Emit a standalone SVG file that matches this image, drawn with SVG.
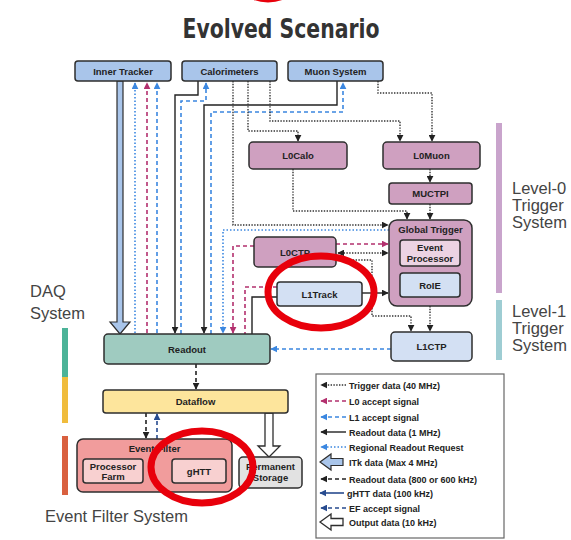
<svg xmlns="http://www.w3.org/2000/svg" width="571" height="540" viewBox="0 0 571 540">
  <style>
    .box { stroke: #2e2e2e; stroke-width: 1.5; }
    .det { fill: #a9c5ea; }
    .l0 { fill: #cfa0c0; }
    .lt { fill: #d3e0f3; }
    .lbl { font-family: "Liberation Sans", Arial, sans-serif; font-weight: bold; font-size: 9.5px; fill: #222; text-anchor: middle; }
    .side { font-family: "Liberation Sans", Arial, sans-serif; font-size: 16.5px; fill: #444; }
    .leg { font-family: "Liberation Sans", Arial, sans-serif; font-weight: bold; font-size: 9px; fill: #222; }
    .c { fill: none; stroke-width: 1.4; }
    .trig { stroke: #333; stroke-dasharray: 1.4 1.4; }
    .rrr { stroke: #3b87e0; stroke-dasharray: 1.5 2; stroke-width: 1.6; }
    .l0a { stroke: #b3306e; stroke-dasharray: 4 3; stroke-width: 1.6; }
    .l1a { stroke: #3b87e0; stroke-dasharray: 4 3; stroke-width: 1.6; }
    .ro { stroke: #222; }
    .ro2 { stroke: #222; stroke-dasharray: 4 3; stroke-width: 1.6; }
    .ght { stroke: #274b8f; stroke-width: 1.6; }
    .efa { stroke: #274b8f; stroke-dasharray: 4 3; stroke-width: 1.6; }
    .ring { fill: none; stroke: #e8000b; stroke-width: 7; }
  </style>
  <defs>
    <marker id="ak" viewBox="0 0 10 10" refX="9" refY="5" markerWidth="7" markerHeight="7" markerUnits="userSpaceOnUse" orient="auto-start-reverse">
      <path d="M0,0 L10,5 L0,10 z" fill="#222"/>
    </marker>
    <marker id="am" viewBox="0 0 10 10" refX="9" refY="5" markerWidth="7" markerHeight="7" markerUnits="userSpaceOnUse" orient="auto-start-reverse">
      <path d="M0,0 L10,5 L0,10 z" fill="#b3306e"/>
    </marker>
    <marker id="ab" viewBox="0 0 10 10" refX="9" refY="5" markerWidth="7" markerHeight="7" markerUnits="userSpaceOnUse" orient="auto-start-reverse">
      <path d="M0,0 L10,5 L0,10 z" fill="#3b87e0"/>
    </marker>
    <marker id="ad" viewBox="0 0 10 10" refX="9" refY="5" markerWidth="7" markerHeight="7" markerUnits="userSpaceOnUse" orient="auto-start-reverse">
      <path d="M0,0 L10,5 L0,10 z" fill="#274b8f"/>
    </marker>
  </defs>

  <rect width="571" height="540" fill="#ffffff"/>

  <!-- title -->
  <text x="281" y="38" font-family="'DejaVu Sans Condensed', 'Liberation Sans Narrow', sans-serif" font-weight="bold" font-size="27" fill="#333" text-anchor="middle" textLength="197" lengthAdjust="spacingAndGlyphs">Evolved Scenario</text>

  <!-- side bars and system labels -->
  <g id="side-labels">
    <rect x="496" y="123" width="6" height="170" fill="#c9a4cc"/>
    <rect x="496" y="300" width="6" height="60" fill="#9ecdd3"/>
    <text class="side" x="512" y="194">Level-0</text>
    <text class="side" x="512" y="211">Trigger</text>
    <text class="side" x="512" y="228">System</text>
    <text class="side" x="512" y="317">Level-1</text>
    <text class="side" x="512" y="334">Trigger</text>
    <text class="side" x="512" y="351">System</text>
    <text class="side" x="30" y="297">DAQ</text>
    <text class="side" x="30" y="319">System</text>
    <rect x="62" y="328" width="6" height="49" fill="#4cb398"/>
    <rect x="62" y="377" width="6" height="46" fill="#f0bc3c"/>
    <rect x="62" y="436" width="6" height="59" fill="#d9603f"/>
    <text class="side" x="45" y="522">Event Filter System</text>
  </g>

  <!-- connectors -->
  <g id="connectors">
    <!-- ITk data -->
    <polygon points="117,81 123,81 123,322 130,322 120,334 110,322 117,322" fill="#a9c5ea" stroke="#2e2e2e" stroke-width="1.2"/>
    <path class="c rrr" d="M135,333 V83" marker-end="url(#ab)"/>
    <path class="c l0a" d="M147,333 V83" marker-end="url(#am)"/>
    <path class="c l1a" d="M157,333 V83" marker-end="url(#ab)"/>
    <!-- detector readout -->
    <path class="c ro" d="M198,81 V95 H175 V333" marker-end="url(#ak)"/>
    <path class="c l1a" d="M181,334 V101 H206 V83" marker-end="url(#ab)"/>
    <path class="c ro" d="M337,81 V105 H204 V333" marker-end="url(#ak)"/>
    <path class="c l1a" d="M211,334 V112 H343 V83" marker-end="url(#ab)"/>
    <!-- trigger data -->
    <path class="c trig" d="M248,81 V131 H298 V141" marker-end="url(#ak)"/>
    <path class="c trig" d="M270,81 V121 H400 V141" marker-end="url(#ak)"/>
    <path class="c trig" d="M233,81 V225 H388" marker-end="url(#ak)"/>
    <path class="c trig" d="M378,81 V93 H432 V141" marker-end="url(#ak)"/>
    <path class="c trig" d="M293,169 V211 H407 V219" marker-end="url(#ak)"/>
    <path class="c trig" d="M430,169 V182" marker-end="url(#ak)"/>
    <path class="c trig" d="M430,204 V219" marker-end="url(#ak)"/>
    <path class="c trig" d="M338,253 H388" marker-start="url(#ak)" marker-end="url(#ak)"/>
    <path class="c trig" d="M336,260 H372 V316 H411 V331" marker-end="url(#ak)"/>
    <path class="c trig" d="M430,306 V331" marker-end="url(#ak)"/>
    <!-- regional readout request -->
    <path class="c rrr" d="M389,230 H223 V333" marker-end="url(#ab)"/>
    <!-- L0 accept -->
    <path class="c l0a" d="M254,246 H233 V333" marker-end="url(#am)"/>
    <path class="c l0a" d="M336,244 H388" marker-end="url(#am)"/>
    <path class="c l0a" d="M277,287 H245 V334"/>
    <!-- L1Track -->
    <path class="c ro" d="M277,297 H252 V334"/>
    <path class="c ro" d="M362,293 H388" marker-end="url(#ak)"/>
    <!-- L1 accept to readout -->
    <path class="c l1a" d="M391,349 H271" marker-end="url(#ab)"/>
    <!-- DAQ chain -->
    <path class="c ro2" d="M196,364 V389" marker-end="url(#ak)"/>
    <path class="c ro2" d="M146,413 V438" marker-end="url(#ak)"/>
    <path class="c efa" d="M157,439 V414" marker-end="url(#ad)"/>
    <polygon points="265,413 273,413 273,446 280,446 269,457 258,446 265,446" fill="#ffffff" stroke="#2e2e2e" stroke-width="1.3"/>
    <path class="c ght" d="M143,471 H171" marker-end="url(#ad)"/>
  </g>

  <!-- detectors -->
  <g id="inner-tracker">
    <rect class="box det" x="75" y="61" width="96" height="20" rx="3"/>
    <text class="lbl" x="123" y="74.5">Inner Tracker</text>
  </g>
  <g id="calorimeters">
    <rect class="box det" x="182" y="61" width="95" height="20" rx="3"/>
    <text class="lbl" x="229.5" y="74.5">Calorimeters</text>
  </g>
  <g id="muon-system">
    <rect class="box det" x="288" y="61" width="95" height="20" rx="3"/>
    <text class="lbl" x="335.5" y="74.5">Muon System</text>
  </g>

  <!-- level-0 trigger -->
  <g id="l0calo">
    <rect class="box l0" x="249" y="142" width="98" height="27" rx="4"/>
    <text class="lbl" x="298" y="159">L0Calo</text>
  </g>
  <g id="l0muon">
    <rect class="box l0" x="383" y="142" width="97" height="27" rx="4"/>
    <text class="lbl" x="431.5" y="159">L0Muon</text>
  </g>
  <g id="muctpi">
    <rect class="box l0" x="389" y="183" width="83" height="21" rx="3"/>
    <text class="lbl" x="430.5" y="197">MUCTPI</text>
  </g>
  <g id="global-trigger">
    <rect class="box l0" x="389" y="220" width="83" height="86" rx="8"/>
    <text class="lbl" x="430.5" y="233">Global Trigger</text>
    <rect class="box" x="400" y="240" width="60" height="26" rx="3" fill="#ecd3e3"/>
    <text class="lbl" x="430" y="251">Event</text>
    <text class="lbl" x="430" y="262">Processor</text>
    <rect class="box lt" x="400" y="273" width="60" height="24" rx="3"/>
    <text class="lbl" x="430" y="288.5">RoIE</text>
  </g>
  <g id="l0ctp">
    <rect class="box l0" x="254" y="237" width="82" height="30" rx="4"/>
    <text class="lbl" x="295" y="255.5">L0CTP</text>
  </g>

  <!-- level-1 trigger -->
  <g id="l1track">
    <rect class="box lt" x="277" y="282" width="85" height="24" rx="3"/>
    <text class="lbl" x="319.5" y="297.5">L1Track</text>
  </g>
  <g id="l1ctp">
    <rect class="box lt" x="391" y="332" width="81" height="29" rx="4"/>
    <text class="lbl" x="431.5" y="350">L1CTP</text>
  </g>

  <!-- DAQ -->
  <g id="readout">
    <rect class="box" x="104" y="334" width="166" height="30" rx="4" fill="#9fcbc0"/>
    <text class="lbl" x="187" y="352.5">Readout</text>
  </g>
  <g id="dataflow">
    <rect class="box" x="103" y="390" width="185" height="23" rx="3" fill="#fde59c"/>
    <text class="lbl" x="195.5" y="405">Dataflow</text>
  </g>
  <g id="event-filter">
    <rect class="box" x="77" y="439" width="155" height="53" rx="6" fill="#f19c9c"/>
    <text class="lbl" x="154.5" y="452">Event Filter</text>
  </g>
  <g id="processor-farm">
    <rect class="box" x="83" y="459" width="60" height="24" rx="3" fill="#f8d0d0"/>
    <text class="lbl" x="113" y="469.5">Processor</text>
    <text class="lbl" x="113" y="480">Farm</text>
  </g>
  <g id="ghtt">
    <rect class="box" x="172" y="459" width="54" height="24" rx="3" fill="#f8d0d0"/>
    <text class="lbl" x="199" y="474.5">gHTT</text>
  </g>
  <g id="permanent-storage">
    <rect class="box" x="239" y="457" width="63" height="31" rx="4" fill="#e2e2e2"/>
    <text class="lbl" x="270.5" y="470">Permanent</text>
    <text class="lbl" x="270.5" y="481">Storage</text>
  </g>

  <!-- legend -->
  <g id="legend">
    <rect x="316" y="374" width="188" height="164" fill="#ffffff" stroke="#666" stroke-width="1.2"/>
    <path class="c trig" d="M346,385 H321" marker-end="url(#ak)"/>
    <text class="leg" x="349" y="388.5">Trigger data (40 MHz)</text>
    <path class="c l0a" d="M346,401 H321" marker-end="url(#am)"/>
    <text class="leg" x="349" y="404.5">L0 accept signal</text>
    <path class="c l1a" d="M346,417 H321" marker-end="url(#ab)"/>
    <text class="leg" x="349" y="420.5">L1 accept signal</text>
    <path class="c ro" d="M346,432 H321" marker-end="url(#ak)"/>
    <text class="leg" x="349" y="435.5">Readout data (1 MHz)</text>
    <path class="c rrr" d="M346,447 H321" marker-end="url(#ab)"/>
    <text class="leg" x="349" y="450.5">Regional Readout Request</text>
    <polygon points="320,462 331,454 331,458.5 343,458.5 343,465.5 331,465.5 331,470" fill="#a9c5ea" stroke="#2e2e2e" stroke-width="1.2"/>
    <text class="leg" x="349" y="465.5">ITk data (Max 4 MHz)</text>
    <path class="c ro2" d="M346,479 H321" marker-end="url(#ak)"/>
    <text class="leg" x="349" y="482.5">Readout data (800 or 600 kHz)</text>
    <path class="c ght" d="M344,493 H320" marker-end="url(#ad)"/>
    <text class="leg" x="347" y="496.5">gHTT data (100 kHz)</text>
    <path class="c efa" d="M346,508 H321" marker-end="url(#ad)"/>
    <text class="leg" x="349" y="511.5">EF accept signal</text>
    <polygon points="320,522 331,514 331,518.5 343,518.5 343,525.5 331,525.5 331,530" fill="#ffffff" stroke="#2e2e2e" stroke-width="1.3"/>
    <text class="leg" x="349" y="525.5">Output data (10 kHz)</text>
  </g>

  <!-- highlight rings -->
  <g id="highlights">
    <ellipse class="ring" cx="268" cy="-25" rx="30" ry="24"/>
    <ellipse class="ring" cx="321" cy="292" rx="53" ry="36"/>
    <ellipse class="ring" cx="202" cy="467" rx="51" ry="36"/>
  </g>
</svg>
